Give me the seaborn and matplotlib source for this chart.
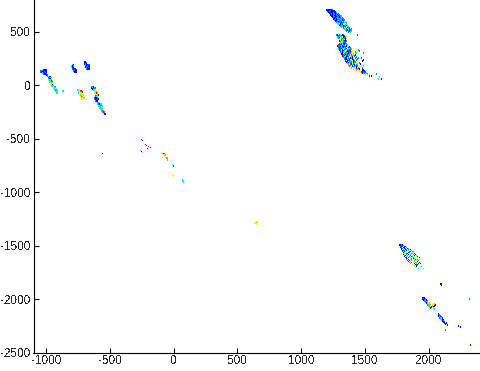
import matplotlib
matplotlib.use("Agg")
import matplotlib.pyplot as plt
import numpy as np
import pandas as pd
import seaborn as sns

x_ticks = [-1000, -500, 0, 500, 1000, 1500, 2000]
y_ticks = [500, 0, -500, -1000, -1500, -2000, -2500]

# Each cluster: row y values, x values in the row, colour level digit per point
upper_y = [703,694,685,675,666,657,647,638,628,619,610,600,591,582,572,563,553,544,535,525,516,507,497,469]
upper_x = [[1200,1208,1216,1223,1231,1239,1247],[1208,1216,1223,1231,1239,1247,1254,1262],[1216,1223,1231,1247,1254,1262,1270],
 [1223,1231,1239,1254,1262,1270,1278],[1231,1239,1247,1262,1270,1278,1286,1294],[1231,1247,1254,1270,1278,1286,1301],
 [1239,1254,1262,1270,1286,1294,1309,1317],[1247,1262,1270,1278,1294,1301,1317],[1254,1262,1278,1286,1301,1309,1325],
 [1254,1270,1278,1294,1301,1317,1333],[1262,1278,1286,1301,1309,1325,1341],[1270,1286,1294,1309,1317,1333],
 [1278,1294,1301,1317,1333,1348],[1286,1294,1309,1317,1325,1341,1356],[1294,1309,1317,1333,1341,1356],
 [1301,1317,1325,1341,1348],[1309,1325,1333,1341,1356,1364],[1317,1333,1348,1356,1372],[1333,1341,1348,1364,1372,1380],
 [1341,1356,1364,1380,1395],[1348,1364,1372,1388],[1356,1372,1380,1395],[1364,1372,1388],[1443]]
upper_c = ["1111112","11121111","1211211","1212112","12121232","1121212","12112123","1211213","2123122","1212332",
 "2122312","123232","212723","3221232","312553","23153","231213","31253","253132","32512","3152","2313","523","7"]

big_y = [469,460,450,441,432,422,413,403,394,385,375,366,356,347,338,328,319,310,300,291,281,272,263,253,244,235,225,216,206,197,188,178,169,160,150,141,131,122,113,103,94,84,103,75,56]
big_x = [[1278,1286,1301,1309,1325,1333],[1286,1294,1309,1317,1333,1341,1356],[1286,1301,1317,1325,1341,1348],[1294,1309,1317,1333,1341,1356],
 [1301,1309,1325,1333,1348],[1301,1317,1325,1341,1348],[1301,1309,1325,1333,1341,1356],[1309,1317,1333,1341,1348],[1309,1325,1333,1348],
 [1301,1317,1325,1341,1356],[1294,1309,1317,1333,1348,1364],[1286,1301,1317,1325,1341,1356,1372],[1294,1309,1317,1333,1348,1364,1372,1380],
 [1301,1309,1325,1333,1341,1356,1372,1388],[1294,1309,1317,1333,1348,1356,1372,1380,1395],[1301,1317,1325,1341,1356,1364,1380,1388,1435,1451],
 [1309,1317,1333,1341,1348,1364,1372,1388,1403,1443,1458],[1309,1325,1333,1348,1356,1372,1380,1395,1427],[1317,1325,1341,1348,1364,1372,1388,1403,1435,1490],
 [1317,1333,1341,1356,1364,1380,1395,1411],[1325,1333,1348,1356,1372,1388,1395,1411,1427,1490],[1325,1341,1348,1364,1380,1388,1403,1419],
 [1333,1341,1356,1372,1380,1395,1403,1435],[1341,1348,1364,1372,1388,1395,1411,1427,1451,1474],[1341,1356,1364,1380,1395,1403,1419,1443],
 [1348,1364,1372,1380,1395,1411,1435,1490],[1348,1364,1372,1388,1403,1419,1443,1482],[1356,1372,1380,1395,1411,1427,1451],
 [1364,1372,1388,1403,1419,1435,1458],[1372,1380,1395,1411,1427,1443,1466],[1372,1388,1403,1419,1435,1451,1474],[1380,1395,1403,1427,1443,1458,1490],
 [1388,1411,1419,1435,1458,1466],[1395,1419,1435,1451,1474,1482],[1411,1427,1443,1458,1482],[1435,1451,1466,1490],[1451,1458,1482,1498],
 [1466,1474,1490,1505],[1482,1498,1513],[1490,1505,1521],[1505,1521,1537],[1537,1552],[1592],[1615],[1607,1631]]
big_c = ["212312","1232125","323512","253125","35231","52351","153212","25321","3572","72312","721253","1231215","21312531","12213512",
 "321521353","1312531252","23135127552","213521232","3152312532","15231253","721235231","17312532","23125312","3152135222","21532152",
 "12315121","71235251","1532125","6125352","3512531","6231255","2513253","532155","351252","55311","6551","5511","5722","123","432","553","71","2","3","31"]

left_y = [141,131,122,113,103,94,85,75,66,56,47,38,28,19,9,0,-9,-19,-28,-38,-47,-56,-66,-75,-56]
left_x = [[-1019,-1011,-1003],[-1043,-1035,-1019,-1011,-1003],[-1043,-1035,-1027,-1011,-1003,-996],[-1027,-1019,-1003,-996],[-1019,-1011,-996],
 [-996,-988],[-988],[-980,-972],[-980,-964],[-972,-956],[-980,-964],[-972,-956,-949],[-972,-956],[-964,-949],[-956,-949],[-964,-949,-941],[-956,-941],
 [-941,-933],[-941,-933],[-933,-925],[-933,-925],[-925,-917],[-917],[-917],[-870]]
left_c = ["111","22111","211211","3121","212","12","2","31","23","15","43","315","32","53","35","514","33","52","43","35","32","33","3","3","3"]

small_y = [188,178,169,160,150,141,131,122,216,206,197,188,178,169,160,150,-47,-56,-66,-75,-94,-103,-113,-122,-131]
small_x = [[-792,-784],[-800,-792,-784],[-800,-792],[-792,-784],[-792,-784,-776],[-784,-776,-768],[-784,-776,-768],[-776,-768],
 [-698,-690],[-698,-690,-682],[-698,-690,-682],[-690,-682,-674,-666],[-690,-682,-674,-666],[-690,-682,-666],[-682,-674,-666,-659],[-682,-674,-666],
 [-753,-745,-737],[-745,-737,-729],[-737,-729,-721],[-745,-729],[-729,-721,-713],[-721,-713,-706],[-729,-721,-706],[-713,-706,-698],[-721,-713]]
small_c = ["31","312","31","11","211","121","221","11","11","112","121","3112","2121","121","2121","211","345","457","567","35","345","456","565","564","45"]

drop_y = [-19,-28,-38,-47,-66,-75,-84,-94,-103,-113,-122,-131,-141,-150,-169,-178,-188,-197,-206,-216,-225,-234,-244,-253,-263,-272]
drop_x = [[-643,-635,-627],[-643,-635,-627,-619],[-635,-627,-619],[-627,-619,-612],[-619,-612,-604],[-619,-612,-604,-596],[-612,-604,-596],[-612,-604,-596,-588],
 [-612,-604,-596],[-604,-596,-588],[-619,-612,-604,-596],[-619,-612,-604,-596,-588],[-612,-604,-596],[-612,-604,-596],[-596,-588,-580],[-596,-588,-580,-572],
 [-588,-580,-572],[-588,-580,-572,-564],[-580,-572,-564],[-580,-572,-564,-557],[-572,-564,-557],[-564,-557,-549],[-564,-557,-549],[-557,-549,-541],[-557,-549,-541],[-549,-541,-533]]
drop_c = ["321","1312","122","345","456","5673","574","4561","263","345","1112","21121","112","211","233","3213","333","3323","334","3343","333","345","376","372","571","511"]

lone_y = [-507,-516,-553,-563,-572,-582,-591,-610,-619,-628,-640,-650,-660,-680,-700,-747,-756,-840,-850,-885,-895,-910,-1280,-1290,-1300]
lone_x = [[-251],[-243],[-220],[-212],[-196,-188],[-180],[-204],[-259],[-251],[-243],[-560,-94,-86,-78,-70],[-80,-70,-62],[-70,-62],[-62,-54],[-50],[-8],[0],[-8],[0],[70],[72],[78,86],[650,658],[640,650],[655]]
lone_c = ["7","7","7","7","7","7","1","3","1","3","14412","556","66","56","6","47","7","5","5","3","3","34","55","56","5"]

lower1_y = [-1491,-1500,-1510,-1519,-1529,-1538,-1548,-1557,-1566,-1576,-1585,-1594,-1604,-1613,-1623,-1632,-1641,-1651,-1660,-1670,-1679,-1688,-1698,-1716]
lower1_x = [[1772,1780,1788,1796],[1772,1780,1788,1796,1803],[1780,1788,1796,1811,1819],[1780,1788,1803,1811,1827],[1788,1796,1811,1819,1835,1842],
 [1788,1803,1819,1827,1842,1858],[1796,1803,1811,1827,1842,1850,1866],[1796,1811,1819,1835,1850,1858,1874,1882],[1803,1811,1827,1842,1850,1866,1882],
 [1803,1819,1827,1835,1850,1866,1874,1889],[1803,1811,1827,1842,1858,1866,1882,1897],[1811,1819,1835,1842,1858,1874,1889,1905],[1811,1827,1835,1850,1866,1874,1889,1913],
 [1819,1827,1842,1858,1866,1882,1897,1929],[1827,1835,1850,1866,1882,1889,1905],[1827,1842,1858,1866,1882,1897,1913],[1835,1850,1866,1874,1889,1905,1921],
 [1842,1858,1874,1889,1897,1913],[1850,1866,1882,1897,1905,1929],[1858,1874,1889,1905,1921,1937],[1874,1897,1905,1913,1921],[1889,1905,1913],[1905,1937,1945],[1921,1960]]
lower1_c = ["1121","11212","21211","12112","121213","131221","1721353","21352123","7351253","35215231","15213561","21352513","13521351","21735251",
 "1352135","3152512","2135252","135651","315261","351311","51215","313","133","33"]

lower2_y = [-1858,-1867,-1989,-1998,-2008,-2017,-2026,-2036,-2045,-2054,-2064,-2073,-2083,-2092,-2251,-2260,-2429]
lower2_x = [[2093,2101],[2101],[1952,1960,1968],[1952,1960,1968,1976,2321],[1960,1968,1976,1984],[1968,1976,1984,1992],[1976,1984,1992],[1984,1992,2000,2008],[1992,2000,2032,2047],
 [1992,2000,2008,2016,2055],[2000,2016,2032,2047],[2008,2024,2039],[2016,2039],[2047],[2234],[2250],[2328]]
lower2_c = ["11","1","111","12122","1221","2312","233","1353","3556","23361","3561","611","13","3","1","1","1"]

lower3_y = [-2140,-2150,-2159,-2168,-2178,-2187,-2196,-2206,-2215,-2225,-2234,-2243,-2290]
lower3_x = [[2078],[2078,2086],[2078,2086,2093],[2086,2093,2101],[2086,2093,2101,2109],[2093,2101,2109],[2101,2117],[2109,2117],[2117,2125],[2125,2140],[2132],[2148],[2132]]
lower3_c = ["1","12","122","312","2331","341","31","12","11","11","1","1","2"]

groups = [(upper_y, upper_x, upper_c), (big_y, big_x, big_c), (left_y, left_x, left_c),
          (small_y, small_x, small_c), (drop_y, drop_x, drop_c), (lone_y, lone_x, lone_c),
          (lower1_y, lower1_x, lower1_c), (lower2_y, lower2_x, lower2_c), (lower3_y, lower3_x, lower3_c)]

level_colors = {"1": "#0000ff", "2": "#0080ff", "3": "#00e8ff", "4": "#60ff90",
                "5": "#ffff00", "6": "#ff9000", "7": "#e00000"}

rows = []
for ys, xs, cs in groups:
    for yv, row, lv in zip(ys, xs, cs):
        for xv, ch in zip(row, lv):
            rows.append((xv, yv, ch))
df = pd.DataFrame(rows, columns=["x", "y", "level"])

sns.set_style("ticks")
plt.rcParams["font.family"] = ["Liberation Sans", "DejaVu Sans"]
plt.rcParams["text.antialiased"] = False
plt.rcParams["axes.unicode_minus"] = False

fig = plt.figure(figsize=(4.81, 3.71), dpi=100, facecolor="white")
ax = fig.add_axes([33.5 / 481, 18.5 / 371, (481 - 33.5) / 481, (371 - 18.5) / 371])
sns.scatterplot(data=df, x="x", y="y", hue="level", palette=level_colors, marker="s",
                s=1.1, linewidth=0, legend=False, ax=ax, antialiased=False, clip_on=False)
ax.set_xlim(-1100, 2412)
ax.set_ylim(-2500, 796)
ax.set_xticks(x_ticks)
ax.set_yticks(y_ticks)
ax.set_xlabel("")
ax.set_ylabel("")
ax.tick_params(direction="in", length=3.5, width=0.8, labelsize=8.5, color="black", pad=2)
for s in ("top", "right"):
    ax.spines[s].set_visible(False)
for s in ("left", "bottom"):
    ax.spines[s].set_linewidth(0.8)
    ax.spines[s].set_color("black")
fig.savefig("out.png", dpi=100, facecolor="white")
